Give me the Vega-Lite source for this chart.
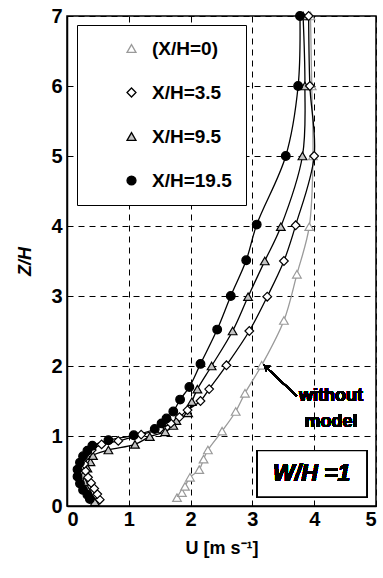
{
  "$schema": "https://vega.github.io/schema/vega-lite/v6.json",
  "width": 309,
  "height": 490,
  "autosize": {"type": "none"},
  "padding": {"left": 67, "top": 16, "right": 7, "bottom": 72},
  "background": "white",
  "config": {
    "font": "Liberation Sans",
    "view": {"stroke": "black", "strokeWidth": 1.5},
    "axis": {
      "domainColor": "black", "domainWidth": 1.5,
      "tickColor": "black", "tickSize": -5, "tickWidth": 1,
      "labelFontSize": 20, "labelFontWeight": "bold", "labelColor": "black", "format": "d",
      "titleFontSize": 18, "titleFontWeight": "bold", "titleColor": "black",
      "grid": true, "gridColor": "black", "gridDash": [6, 5], "gridWidth": 1, "gridOpacity": 1
    },
    "legend": {
      "title": null, "orient": "none", "legendX": 10, "legendY": 9,
      "strokeColor": "black", "fillColor": "white", "padding": 14, "rowPadding": 24,
      "symbolSize": 80, "symbolOffset": 31, "symbolStrokeWidth": 1.3, "labelOffset": 11,
      "labelFontSize": 19, "labelFontWeight": "bold", "labelColor": "black"
    }
  },
  "data": {
    "values": [
      {"series": "(X/H=0)", "z": 0.12, "u": 1.78},
      {"series": "(X/H=0)", "z": 0.19, "u": 1.86},
      {"series": "(X/H=0)", "z": 0.28, "u": 1.91},
      {"series": "(X/H=0)", "z": 0.41, "u": 1.99},
      {"series": "(X/H=0)", "z": 0.52, "u": 2.14},
      {"series": "(X/H=0)", "z": 0.67, "u": 2.21},
      {"series": "(X/H=0)", "z": 0.80, "u": 2.28},
      {"series": "(X/H=0)", "z": 1.07, "u": 2.51},
      {"series": "(X/H=0)", "z": 1.35, "u": 2.73},
      {"series": "(X/H=0)", "z": 1.61, "u": 2.88},
      {"series": "(X/H=0)", "z": 2.01, "u": 3.15},
      {"series": "(X/H=0)", "z": 2.65, "u": 3.51},
      {"series": "(X/H=0)", "z": 3.31, "u": 3.72},
      {"series": "(X/H=0)", "z": 3.99, "u": 3.92},
      {"series": "(X/H=0)", "z": 5.0, "u": 3.98},
      {"series": "(X/H=0)", "z": 6.0, "u": 3.96},
      {"series": "(X/H=0)", "z": 7.0, "u": 3.94},

      {"series": "X/H=9.5", "z": 0.06, "u": 0.45},
      {"series": "X/H=9.5", "z": 0.15, "u": 0.38},
      {"series": "X/H=9.5", "z": 0.25, "u": 0.32},
      {"series": "X/H=9.5", "z": 0.35, "u": 0.28},
      {"series": "X/H=9.5", "z": 0.45, "u": 0.27},
      {"series": "X/H=9.5", "z": 0.54, "u": 0.33},
      {"series": "X/H=9.5", "z": 0.63, "u": 0.38},
      {"series": "X/H=9.5", "z": 0.72, "u": 0.42},
      {"series": "X/H=9.5", "z": 0.80, "u": 0.67},
      {"series": "X/H=9.5", "z": 0.88, "u": 1.10},
      {"series": "X/H=9.5", "z": 0.99, "u": 1.34},
      {"series": "X/H=9.5", "z": 1.06, "u": 1.59},
      {"series": "X/H=9.5", "z": 1.15, "u": 1.72},
      {"series": "X/H=9.5", "z": 1.22, "u": 1.77},
      {"series": "X/H=9.5", "z": 1.33, "u": 1.96},
      {"series": "X/H=9.5", "z": 1.49, "u": 2.02},
      {"series": "X/H=9.5", "z": 1.67, "u": 2.11},
      {"series": "X/H=9.5", "z": 2.00, "u": 2.34},
      {"series": "X/H=9.5", "z": 2.50, "u": 2.68},
      {"series": "X/H=9.5", "z": 2.99, "u": 2.93},
      {"series": "X/H=9.5", "z": 3.50, "u": 3.20},
      {"series": "X/H=9.5", "z": 3.99, "u": 3.46},
      {"series": "X/H=9.5", "z": 5.0, "u": 3.81},
      {"series": "X/H=9.5", "z": 6.0, "u": 3.85},
      {"series": "X/H=9.5", "z": 7.0, "u": 3.82},

      {"series": "X/H=3.5", "z": 0.09, "u": 0.53},
      {"series": "X/H=3.5", "z": 0.17, "u": 0.49},
      {"series": "X/H=3.5", "z": 0.25, "u": 0.44},
      {"series": "X/H=3.5", "z": 0.33, "u": 0.39},
      {"series": "X/H=3.5", "z": 0.41, "u": 0.34},
      {"series": "X/H=3.5", "z": 0.50, "u": 0.30},
      {"series": "X/H=3.5", "z": 0.60, "u": 0.28},
      {"series": "X/H=3.5", "z": 0.70, "u": 0.30},
      {"series": "X/H=3.5", "z": 0.80, "u": 0.40},
      {"series": "X/H=3.5", "z": 0.88, "u": 0.56},
      {"series": "X/H=3.5", "z": 0.93, "u": 0.83},
      {"series": "X/H=3.5", "z": 1.02, "u": 1.20},
      {"series": "X/H=3.5", "z": 1.10, "u": 1.50},
      {"series": "X/H=3.5", "z": 1.18, "u": 1.68},
      {"series": "X/H=3.5", "z": 1.27, "u": 1.82},
      {"series": "X/H=3.5", "z": 1.37, "u": 1.95},
      {"series": "X/H=3.5", "z": 1.50, "u": 2.16},
      {"series": "X/H=3.5", "z": 1.67, "u": 2.30},
      {"series": "X/H=3.5", "z": 2.01, "u": 2.58},
      {"series": "X/H=3.5", "z": 2.50, "u": 2.95},
      {"series": "X/H=3.5", "z": 2.99, "u": 3.24},
      {"series": "X/H=3.5", "z": 3.50, "u": 3.51},
      {"series": "X/H=3.5", "z": 4.01, "u": 3.70},
      {"series": "X/H=3.5", "z": 5.0, "u": 4.00},
      {"series": "X/H=3.5", "z": 6.0, "u": 3.93},
      {"series": "X/H=3.5", "z": 7.0, "u": 3.91},

      {"series": "X/H=19.5", "z": 0.10, "u": 0.37},
      {"series": "X/H=19.5", "z": 0.16, "u": 0.33},
      {"series": "X/H=19.5", "z": 0.23, "u": 0.26},
      {"series": "X/H=19.5", "z": 0.32, "u": 0.21},
      {"series": "X/H=19.5", "z": 0.42, "u": 0.17},
      {"series": "X/H=19.5", "z": 0.52, "u": 0.17},
      {"series": "X/H=19.5", "z": 0.62, "u": 0.21},
      {"series": "X/H=19.5", "z": 0.71, "u": 0.26},
      {"series": "X/H=19.5", "z": 0.79, "u": 0.33},
      {"series": "X/H=19.5", "z": 0.86, "u": 0.41},
      {"series": "X/H=19.5", "z": 0.94, "u": 0.67},
      {"series": "X/H=19.5", "z": 1.01, "u": 1.08},
      {"series": "X/H=19.5", "z": 1.10, "u": 1.42},
      {"series": "X/H=19.5", "z": 1.18, "u": 1.53},
      {"series": "X/H=19.5", "z": 1.25, "u": 1.61},
      {"series": "X/H=19.5", "z": 1.35, "u": 1.72},
      {"series": "X/H=19.5", "z": 1.52, "u": 1.83},
      {"series": "X/H=19.5", "z": 1.70, "u": 1.98},
      {"series": "X/H=19.5", "z": 2.03, "u": 2.16},
      {"series": "X/H=19.5", "z": 2.52, "u": 2.43},
      {"series": "X/H=19.5", "z": 3.00, "u": 2.65},
      {"series": "X/H=19.5", "z": 3.51, "u": 2.90},
      {"series": "X/H=19.5", "z": 4.02, "u": 3.07},
      {"series": "X/H=19.5", "z": 5.0, "u": 3.54},
      {"series": "X/H=19.5", "z": 6.0, "u": 3.74},
      {"series": "X/H=19.5", "z": 7.0, "u": 3.77}
    ]
  },
  "layer": [
    {
      "mark": {"type": "line", "interpolate": "catmull-rom", "strokeWidth": 1.3},
      "encoding": {
        "x": {"field": "u", "type": "quantitative", "scale": {"domain": [0, 5], "nice": false, "zero": false},
              "axis": {"values": [0, 1, 2, 3, 4, 5], "title": "U  [m s⁻¹]", "labelPadding": 8, "titlePadding": 10}},
        "y": {"field": "z", "type": "quantitative", "scale": {"domain": [0, 7], "nice": false, "zero": false},
              "axis": {"values": [0, 1, 2, 3, 4, 5, 6, 7], "title": "Z/H", "titleFontStyle": "italic", "labelPadding": 10, "titlePadding": 16}},
        "detail": {"field": "series", "type": "nominal"},
        "order": {"field": "z", "type": "quantitative"},
        "color": {"condition": {"test": "datum.series === '(X/H=0)'", "value": "#9a9a9a"}, "value": "black"}
      }
    },
    {
      "mark": {"type": "point", "filled": true, "size": 75, "strokeWidth": 1.2, "opacity": 1},
      "encoding": {
        "x": {"field": "u", "type": "quantitative"},
        "y": {"field": "z", "type": "quantitative"},
        "shape": {"field": "series", "type": "nominal",
          "scale": {"domain": ["(X/H=0)", "X/H=3.5", "X/H=9.5", "X/H=19.5"], "range": ["triangle-up", "diamond", "triangle-up", "circle"]}},
        "fill": {"field": "series", "type": "nominal",
          "scale": {"domain": ["(X/H=0)", "X/H=3.5", "X/H=9.5", "X/H=19.5"], "range": ["white", "white", "#c4c4c4", "black"]}},
        "stroke": {"field": "series", "type": "nominal",
          "scale": {"domain": ["(X/H=0)", "X/H=3.5", "X/H=9.5", "X/H=19.5"], "range": ["#9a9a9a", "black", "black", "black"]}}
      }
    },
    {
      "mark": {"type": "rule", "strokeWidth": 1.6, "color": "black"},
      "encoding": {
        "x": {"datum": 3.72, "type": "quantitative"},
        "y": {"datum": 1.57, "type": "quantitative"},
        "x2": {"datum": 3.26},
        "y2": {"datum": 1.95}
      }
    },
    {
      "mark": {"type": "point", "shape": "triangle-up", "filled": true, "color": "black", "opacity": 1, "size": 45, "angle": 311},
      "encoding": {
        "x": {"datum": 3.22, "type": "quantitative"},
        "y": {"datum": 1.99, "type": "quantitative"}
      }
    },
    {
      "mark": {"type": "text", "fontSize": 18, "fontWeight": "bold", "color": "black", "align": "center", "baseline": "middle", "lineHeight": 26},
      "encoding": {
        "x": {"datum": 4.27, "type": "quantitative"},
        "y": {"datum": 1.57, "type": "quantitative"},
        "text": {"value": ["without", "model"]}
      }
    },
    {
      "mark": {"type": "rect", "fill": "white", "stroke": "black", "strokeWidth": 1.3},
      "encoding": {
        "x": {"datum": 3.08, "type": "quantitative"},
        "x2": {"datum": 4.85},
        "y": {"datum": 0.79, "type": "quantitative"},
        "y2": {"datum": 0.13}
      }
    },
    {
      "mark": {"type": "text", "fontSize": 23, "fontWeight": "bold", "fontStyle": "italic", "color": "black", "align": "center", "baseline": "middle"},
      "encoding": {
        "x": {"datum": 3.96, "type": "quantitative"},
        "y": {"datum": 0.46, "type": "quantitative"},
        "text": {"value": "W/H =1"}
      }
    }
  ]
}
